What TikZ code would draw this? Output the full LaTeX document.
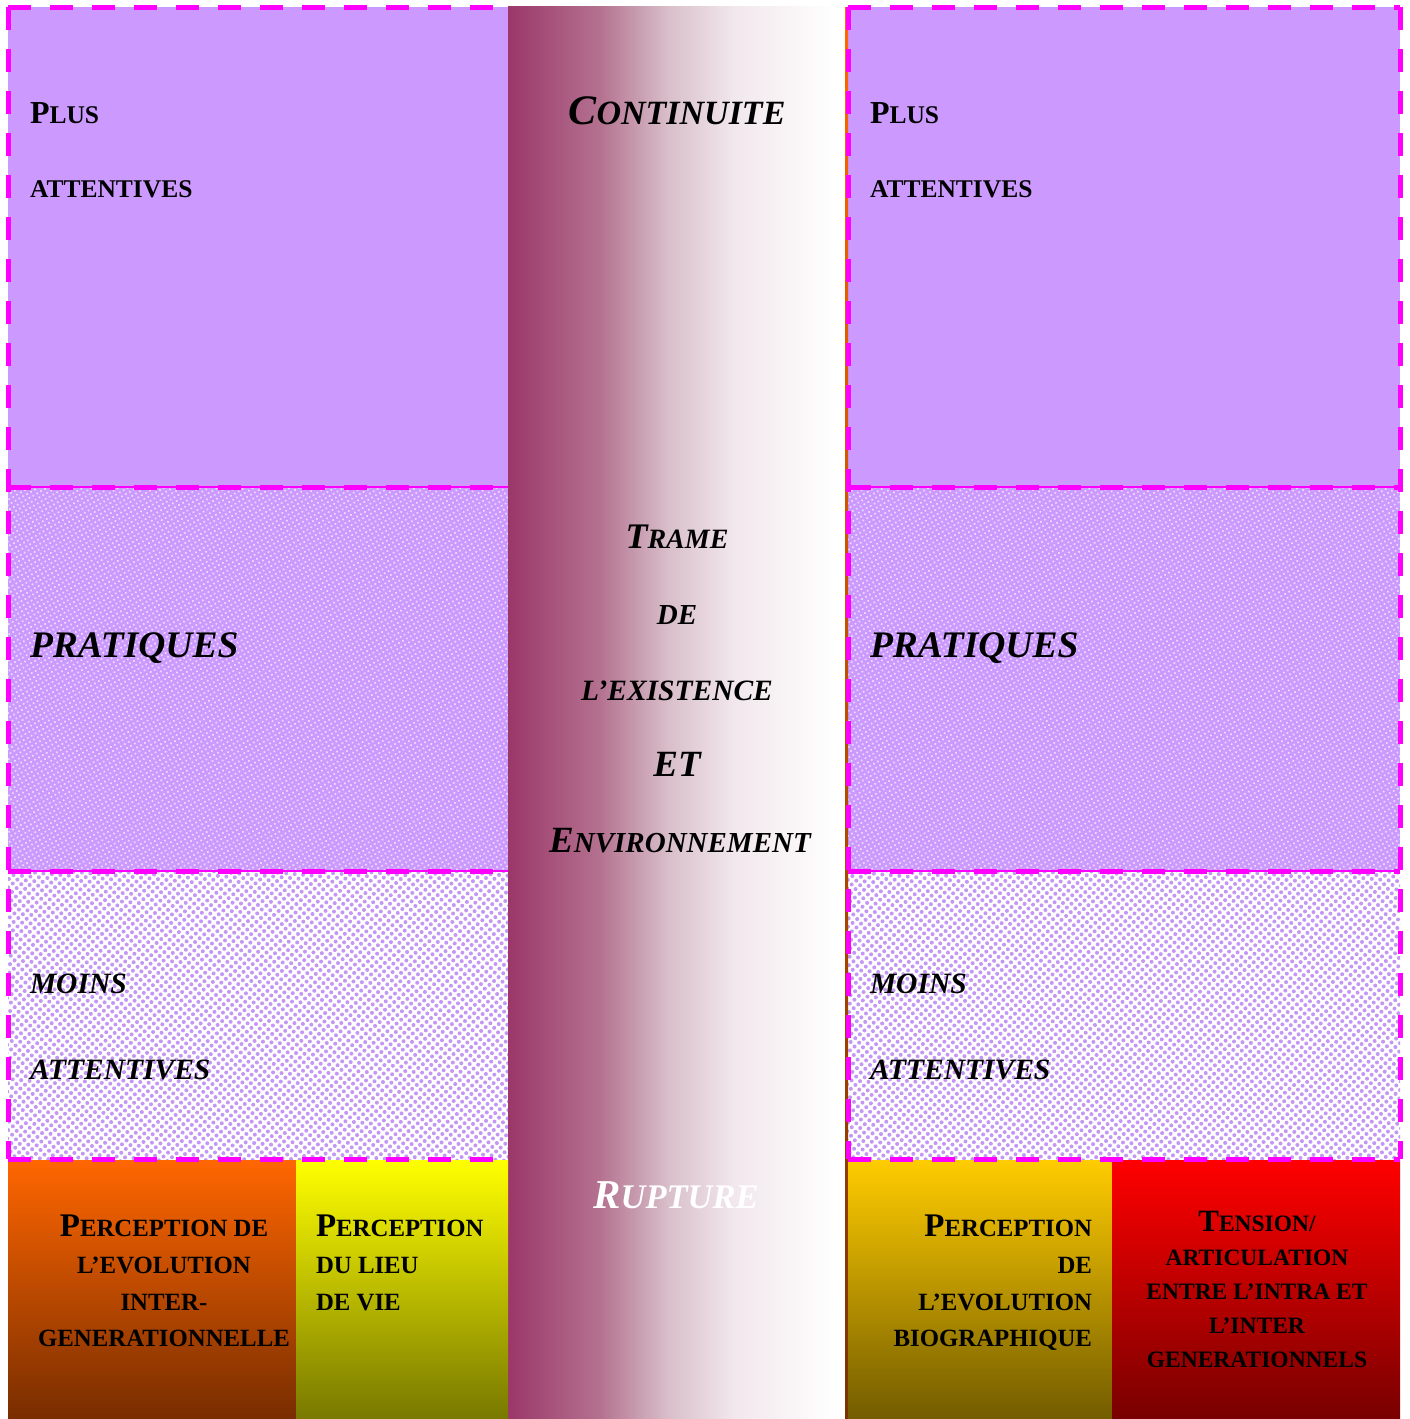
\documentclass[tikz,border=0pt]{standalone}
\usepackage{fontspec}
\setmainfont{Liberation Serif}
\usetikzlibrary{patterns.meta}

\definecolor{lilac}{HTML}{CC99FF}
\definecolor{lilacdot}{HTML}{C497F5}
\definecolor{lilaclite}{HTML}{EBDCFF}
\definecolor{frame}{HTML}{FF00FF}
\definecolor{trame}{RGB}{155,55,105}
\definecolor{trameB}{RGB}{180,114,144}
\definecolor{trameC}{RGB}{216,190,201}
\definecolor{trameD}{RGB}{241,231,236}
\definecolor{orangeT}{HTML}{FF6600}
\definecolor{orangeB}{HTML}{782D00}
\definecolor{yellowT}{HTML}{FFFF00}
\definecolor{yellowB}{HTML}{787800}
\definecolor{goldT}{HTML}{FFCC00}
\definecolor{goldB}{HTML}{735C00}
\definecolor{redT}{HTML}{FF0000}
\definecolor{redB}{HTML}{780000}
\definecolor{edgeT}{HTML}{FF6600}
\definecolor{edgeB}{HTML}{7A3300}

\newcommand\fsz[1]{\fontsize{#1}{#1}\selectfont}

\begin{document}
\begin{tikzpicture}[x=1pt,y=-1pt,
  txt/.style={inner sep=0pt, outer sep=0pt, font=\bfseries},
  itx/.style={inner sep=0pt, outer sep=0pt, font=\bfseries\itshape},
  dashframe/.style={draw=frame, line width=5pt, dash pattern=on 23pt off 19pt},
  thinframe/.style={draw=frame, line width=1.5pt},
  upperzone/.style={fill=lilac},
  middlezone/.style={fill=lilac, postaction={pattern={Dots[distance=4.5pt, radius=1.2pt, angle=30]}, pattern color=lilaclite}},
  lowerzone/.style={fill=white, postaction={pattern={Dots[distance=6pt, radius=2pt, angle=40]}, pattern color=lilacdot}}
]
\useasboundingbox (0,0) rectangle (1410,1419);
\fill[white] (0,0) rectangle (1410,1419);

% ---- left and right panels: three bands each
\foreach \xa/\xb in {8/508, 848/1400}{
  \path[upperzone]  (\xa,7)   rectangle (\xb,487);
  \path[middlezone] (\xa,487) rectangle (\xb,871);
  \path[lowerzone]  (\xa,871) rectangle (\xb,1160);
}

% ---- central column, fading from plum to white
\shade[left color=trame,  right color=trameB] (508,6) rectangle (600.5,1419);
\shade[left color=trameB, right color=trameC] (600,6) rectangle (667.5,1419);
\shade[left color=trameC, right color=trameD] (667,6) rectangle (733.5,1419);
\shade[left color=trameD, right color=white]  (733,6) rectangle (835,1419);
\fill[white] (834.5,6) rectangle (845,1419);

% ---- thin edge of the right panel
\shade[top color=edgeT, bottom color=edgeB] (845,7) rectangle (848,1419);

% ---- bottom boxes
\shade[top color=orangeT, bottom color=orangeB] (8,1160) rectangle (296,1419);
\shade[top color=yellowT, bottom color=yellowB] (296,1160) rectangle (508,1419);
\shade[top color=goldT, bottom color=goldB] (848,1160) rectangle (1112,1419);
\shade[top color=redT, bottom color=redB] (1112,1160) rectangle (1400,1419);

% ---- dashed frames
\foreach \xa/\xb in {8/508, 848/1400}{
  \draw[thinframe] (\xa,487) -- (\xb,487);
  \draw[thinframe] (\xa,871) -- (\xb,871);
  \draw[dashframe] (\xa,7) -- (\xb,7);
  \draw[dashframe] (\xa,487) -- (\xb,487);
  \draw[dashframe] (\xa,871) -- (\xb,871);
  \draw[dashframe] (\xa,1159) -- (\xb,1159);
  \draw[dashframe] (\xa,7) -- (\xa,1159);
}
\draw[dashframe] (1400,7) -- (1400,1159);

% ---- panel texts
\foreach \px/\side in {30/l, 870/r}{
  \node[txt, anchor=base west] (plus\side) at (\px,123) {{\fsz{32}P}{\fsz{25.5}LUS}};
  \node[txt, anchor=base west] (att\side) at (\px,197) {\fsz{25.5}ATTENTIVES};
  \node[itx, anchor=base west] (prat\side) at (\px,657) {\fsz{37.5}PRATIQUES};
  \node[itx, anchor=base west] (moins\side) at (\px,993) {\fsz{29.5}MOINS};
  \node[itx, anchor=base west] (matt\side) at (\px,1079) {\fsz{29.5}ATTENTIVES};
}

% ---- central column texts
\node[itx, anchor=base] (cont) at (677,124) {{\fsz{42}C}{\fsz{34}ONTINUITE}};
\node[itx, anchor=base] (trame) at (677,548) {{\fsz{36}T}{\fsz{28}RAME}};
\node[itx, anchor=base] (de) at (677,624) {\fsz{29}DE};
\node[itx, anchor=base] (exist) at (677,700) {\fsz{29.5}L’EXISTENCE};
\node[itx, anchor=base] (et) at (677,776) {\fsz{37}ET};
\node[itx, anchor=base] (env) at (680,852) {{\fsz{37}E}{\fsz{29}NVIRONNEMENT}};
\node[itx, anchor=base, text=white] (rupt) at (676,1208) {{\fsz{41}R}{\fsz{34.5}UPTURE}};

% ---- bottom box texts
\node[txt, anchor=base] (o1) at (164,1236) {{\fsz{33}P}{\fsz{24.8}ERCEPTION DE}};
\node[txt, anchor=base] (o2) at (164,1273) {\fsz{24.8}L’EVOLUTION};
\node[txt, anchor=base] (o3) at (164,1310) {\fsz{24.8}INTER-};
\node[txt, anchor=base] (o4) at (164,1346) {\fsz{24.8}GENERATIONNELLE};

\node[txt, anchor=base west] (y1) at (316,1236) {{\fsz{33}P}{\fsz{24.8}ERCEPTION}};
\node[txt, anchor=base west] (y2) at (316,1273) {\fsz{24.8}DU LIEU};
\node[txt, anchor=base west] (y3) at (316,1310) {\fsz{24.8}DE VIE};

\node[txt, anchor=base east] (g1) at (1092,1236) {{\fsz{33}P}{\fsz{24.8}ERCEPTION}};
\node[txt, anchor=base east] (g2) at (1092,1273) {\fsz{24.8}DE};
\node[txt, anchor=base east] (g3) at (1092,1310) {\fsz{24.8}L’EVOLUTION};
\node[txt, anchor=base east] (g4) at (1092,1346) {\fsz{24.8}BIOGRAPHIQUE};

\node[txt, anchor=base] (r1) at (1257,1231) {{\fsz{31}T}{\fsz{23.5}ENSION/}};
\node[txt, anchor=base] (r2) at (1257,1265) {\fsz{23.5}ARTICULATION};
\node[txt, anchor=base] (r3) at (1257,1299) {\fsz{23.5}ENTRE L’INTRA ET};
\node[txt, anchor=base] (r4) at (1257,1333) {\fsz{23.5}L’INTER};
\node[txt, anchor=base] (r5) at (1257,1367) {\fsz{23.5}GENERATIONNELS};
\end{tikzpicture}
\end{document}
